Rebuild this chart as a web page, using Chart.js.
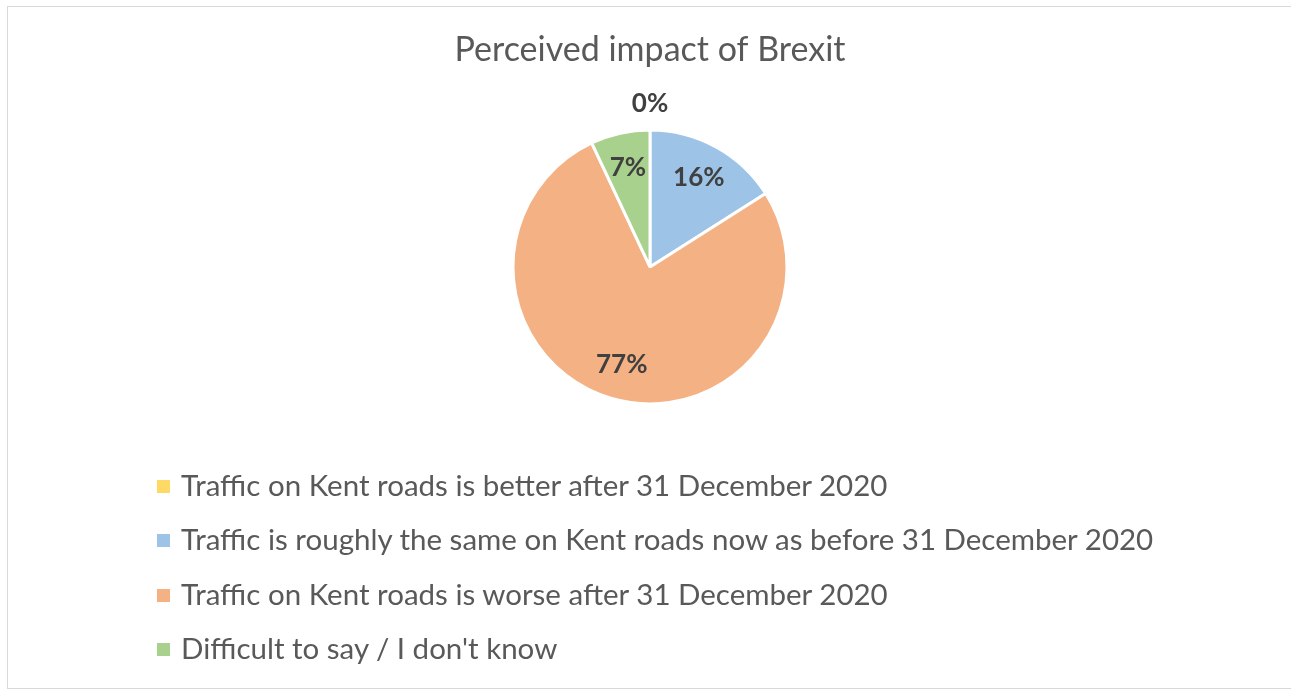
<!DOCTYPE html>
<html>
<head>
<meta charset="utf-8">
<script src="https://cdn.jsdelivr.net/npm/chart.js@4/dist/chart.umd.min.js"></script>
<style>
  body { margin: 0; background: #fff; }
  #wrap { position: relative; width: 1291px; height: 690px; overflow: hidden; }
  #frame { position: absolute; left: 7px; top: 6px; width: 1300px; height: 683px; border: 1px solid #d9d9d9; box-sizing: border-box; }
  #mainChart { position: absolute; left: 0; top: 0; }
  #legend { position: absolute; left: 157px; top: 458px; font-family: Lato, sans-serif; font-size: 29.5px; color: #595959; }
  .item { position: absolute; left: 0; white-space: nowrap; height: 30px; line-height: 30px; }
  .box { position: absolute; left: 0; top: 10px; width: 13px; height: 13px; }
  .txt { position: absolute; left: 24px; top: 0; }
</style>
</head>
<body>
<div id="wrap">
  <div id="frame"></div>
  <canvas id="mainChart" width="1291" height="690"></canvas>
  <div id="legend"></div>
</div>
<script>
const labels = [
  'Traffic on Kent roads is better after 31 December 2020',
  'Traffic is roughly the same on Kent roads now as before 31 December 2020',
  'Traffic on Kent roads is worse after 31 December 2020',
  "Difficult to say / I don't know"
];
const values = [0, 16, 77, 7];
const colors = ['#FFD966', '#9DC3E6', '#F4B183', '#A9D18E'];

// percentages drawn on the slices, the empty one goes outside
const sliceLabels = {
  id: 'sliceLabels',
  afterDatasetsDraw(chart) {
    const ctx = chart.ctx;
    const meta = chart.getDatasetMeta(0);
    ctx.save();
    ctx.font = 'bold 26px Lato, sans-serif';
    ctx.fillStyle = '#404040';
    ctx.textAlign = 'center';
    ctx.textBaseline = 'middle';
    meta.data.forEach((arc, i) => {
      const p = arc.getProps(['x', 'y', 'startAngle', 'endAngle', 'outerRadius'], true);
      const mid = (p.startAngle + p.endAngle) / 2;
      const r = values[i] === 0 ? p.outerRadius + 26 : p.outerRadius * 0.74;
      ctx.fillText(values[i] + '%', p.x + Math.cos(mid) * r, p.y + Math.sin(mid) * r);
    });
    ctx.restore();
  }
};

const chart = new Chart(document.getElementById('mainChart'), {
  type: 'pie',
  data: {
    labels: labels,
    datasets: [{
      data: values,
      backgroundColor: colors,
      borderColor: '#ffffff',
      borderWidth: 3
    }]
  },
  options: {
    responsive: false,
    animation: false,
    radius: 137,
    layout: { padding: { left: 9, right: 0, top: 0, bottom: 286 } },
    plugins: {
      legend: { display: false },
      tooltip: { enabled: false },
      title: {
        display: true,
        text: 'Perceived impact of Brexit',
        color: '#595959',
        font: { family: 'Lato, sans-serif', size: 34, weight: 'normal', lineHeight: 1.2 },
        padding: { top: 30, bottom: 59 }
      }
    }
  },
  plugins: [sliceLabels]
});

// legend rows built from the same arrays
const legend = document.getElementById('legend');
labels.forEach((l, i) => {
  const item = document.createElement('div');
  item.className = 'item';
  item.style.top = (12 + i * 54.3) + 'px';
  item.innerHTML = '<span class="box" style="background:' + colors[i] + '"></span><span class="txt"></span>';
  item.querySelector('.txt').textContent = l;
  legend.appendChild(item);
});
</script>
</body>
</html>
